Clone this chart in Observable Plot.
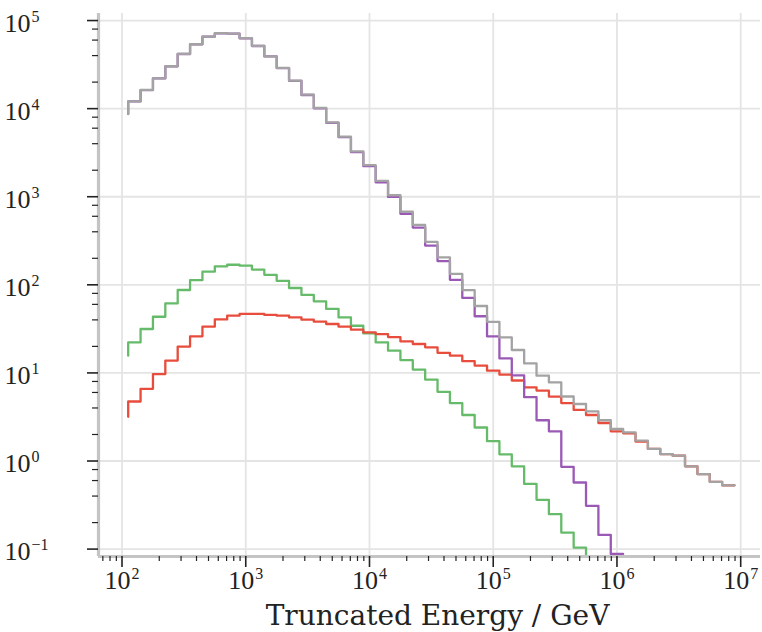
<!DOCTYPE html>
<html>
<head>
<meta charset="utf-8">
<script src="https://cdn.jsdelivr.net/npm/d3@7"></script>
<script src="https://cdn.jsdelivr.net/npm/@observablehq/plot@0.6"></script>
<style>
  html, body { margin: 0; padding: 0; background: #fff; }
  #chart svg { display: block; }
</style>
</head>
<body>
<div id="chart"></div>
<script>
// ---- Data ----
// Histogram bins: 0.1 decade wide, first bin edge at 10^2.05 GeV
const binLogStart = 2.05;
const binLogStep = 0.1;

// Grey: total
const totalCounts = [8700, 12100, 16300, 22100, 30300, 41800, 53800, 65800, 71800, 71100,
  63000, 51600, 39300, 29000, 20800, 14400, 10200, 7000, 4820, 3280,
  2280, 1510, 1040, 678, 479, 307, 205, 133, 87, 57.5,
  38, 25.3, 18.2, 12.8, 9.3, 7.8, 5.4, 4.44, 3.66, 2.9,
  2.31, 2.11, 1.7, 1.37, 1.2, 1.15, 0.87, 0.71, 0.58, 0.53];

// Purple component
const purpleCounts = [8680, 12070, 16260, 22050, 30220, 41690, 53660, 65620, 71600, 70890,
  62790, 51400, 39120, 28840, 20670, 14280, 10100, 6910, 4740, 3210,
  2220, 1460, 996, 641, 447, 279, 186, 114, 71, 44,
  26, 14.6, 9.4, 5.3, 2.9, 2.17, 0.86, 0.57, 0.31, 0.145,
  0.088];

// Green component
const greenCounts = [15.7, 22.2, 31.5, 43.4, 61.5, 87.3, 113, 141, 162, 169,
  165, 149, 130, 111, 92, 76.7, 64.9, 53.2, 42.7, 34.3,
  28.1, 22.2, 17.9, 14, 10.9, 8.4, 6.1, 4.55, 3.33, 2.4,
  1.68, 1.19, 0.87, 0.55, 0.363, 0.249, 0.154, 0.104, 0.05];

// Red component
const redCounts = [3.18, 4.74, 6.6, 9.7, 13.8, 19.9, 26, 33.5, 40.5, 44.7,
  46.7, 46.7, 45.5, 44.7, 42.7, 40.2, 38.2, 35.9, 33.5, 31,
  28.8, 27.5, 25.5, 22.8, 21.3, 19.5, 16.9, 15.7, 13.6, 12.1,
  10.6, 9.55, 8.2, 6.85, 6.3, 5.37, 4.55, 3.8, 3.33, 2.7,
  2.17, 2.06, 1.66, 1.37, 1.2, 1.15, 0.87, 0.71, 0.58, 0.53];

const seriesNames = ["green", "red", "purple", "total"];
const seriesColors = ["#66bb6a", "#e74c3c", "#9b59b6", "#a3a3a3"];

const xTicks = [1e2, 1e3, 1e4, 1e5, 1e6, 1e7];
const xTickLabels = ["10²", "10³", "10⁴", "10⁵", "10⁶", "10⁷"];
const yTicks = [1e-1, 1e0, 1e1, 1e2, 1e3, 1e4, 1e5];
const yTickLabels = ["10⁻¹", "10⁰", "10¹", "10²", "10³", "10⁴", "10⁵"];
const xLabel = "Truncated Energy / GeV";

// ---- Build tables ----
const xDomain = [10 ** 1.81, 10 ** 7.16];
const yDomain = [10 ** -1.084, 10 ** 5.08];

function rows(name, values) {
  return values.map((v, i) => ({series: name, energy: 10 ** (binLogStart + binLogStep * i), count: v}));
}
const data = [
  ...rows("green", greenCounts),
  ...rows("red", redCounts),
  ...rows("purple", purpleCounts),
  ...rows("total", totalCounts)
];

const xMinor = [];
for (let e = 1; e <= 7; e++) for (let s = 2; s <= 9; s++) {
  const v = s * 10 ** e;
  if (v > xDomain[0] && v < xDomain[1]) xMinor.push(v);
}
const yMinor = [];
for (let e = -2; e <= 5; e++) for (const s of [2, 4, 6, 8]) {
  const v = s * 10 ** e;
  if (v > yDomain[0] && v < yDomain[1]) yMinor.push(v);
}

const labelFont = "DejaVu Serif";
const tickFont = "Liberation Serif";

const chart = Plot.plot({
  width: 762,
  height: 632,
  marginLeft: 98,
  marginRight: 2,
  marginTop: 13,
  marginBottom: 76,
  style: {fontFamily: tickFont, background: "white", color: "#222"},
  x: {type: "log", domain: xDomain},
  y: {type: "log", domain: yDomain},
  color: {domain: seriesNames, range: seriesColors},
  marks: [
    Plot.gridX(xTicks, {stroke: "#e4e4e4", strokeOpacity: 1, strokeWidth: 1.8}),
    Plot.gridY(yTicks, {stroke: "#e4e4e4", strokeOpacity: 1, strokeWidth: 1.8}),
    Plot.line(data, {
      x: "energy", y: "count", z: "series", stroke: "series",
      curve: "step-before", strokeWidth: 2.3, clip: true
    }),
    Plot.ruleX([xDomain[0]], {stroke: "#c4c4c4", strokeWidth: 3.2}),
    Plot.ruleY([yDomain[0]], {stroke: "#c4c4c4", strokeWidth: 3.2}),
    Plot.axisX(xMinor, {tickSize: 5, tickFormat: () => "", label: null, stroke: "#222", strokeWidth: 1.2}),
    Plot.axisX(xTicks, {tickSize: 11, tickFormat: () => "", label: null, stroke: "#222", strokeWidth: 1.6}),
    Plot.axisY(yMinor, {tickSize: 6, tickFormat: () => "", label: null, stroke: "#222", strokeWidth: 1.2}),
    Plot.axisY(yTicks, {tickSize: 11, tickFormat: () => "", label: null, stroke: "#222", strokeWidth: 1.6}),
    Plot.text(xTicks, {
      x: d => d, text: (d, i) => xTickLabels[i], frameAnchor: "bottom",
      dy: 32, fontSize: 26, fill: "#222", fontFamily: tickFont
    }),
    Plot.text(yTicks, {
      y: d => d, text: (d, i) => yTickLabels[i], frameAnchor: "left",
      dx: -94, dy: 3, textAnchor: "start", fontSize: 26, fill: "#222", fontFamily: tickFont
    }),
    Plot.text([xLabel], {
      text: d => d, frameAnchor: "bottom", dy: 68, dx: 8,
      fontSize: 28, fill: "#222", fontFamily: labelFont
    })
  ]
});

// Typeset the exponents of the tick labels as real superscripts (larger than Unicode ones)
const supMap = {"⁰": "0", "¹": "1", "²": "2", "³": "3", "⁴": "4", "⁵": "5",
  "⁶": "6", "⁷": "7", "⁸": "8", "⁹": "9", "⁻": "−"};
chart.querySelectorAll("text").forEach(t => {
  const s = t.textContent;
  const m = s.match(/^([^⁰¹²³⁴⁵⁶⁷⁸⁹⁻]+)([⁰¹²³⁴⁵⁶⁷⁸⁹⁻]+)$/);
  if (!m) return;
  t.textContent = m[1];
  const ts = document.createElementNS("http://www.w3.org/2000/svg", "tspan");
  ts.setAttribute("dy", "-10");
  ts.setAttribute("dx", "1");
  ts.setAttribute("font-size", "16");
  ts.textContent = [...m[2]].map(c => supMap[c]).join("");
  t.appendChild(ts);
});

document.getElementById("chart").appendChild(chart);
</script>
</body>
</html>
